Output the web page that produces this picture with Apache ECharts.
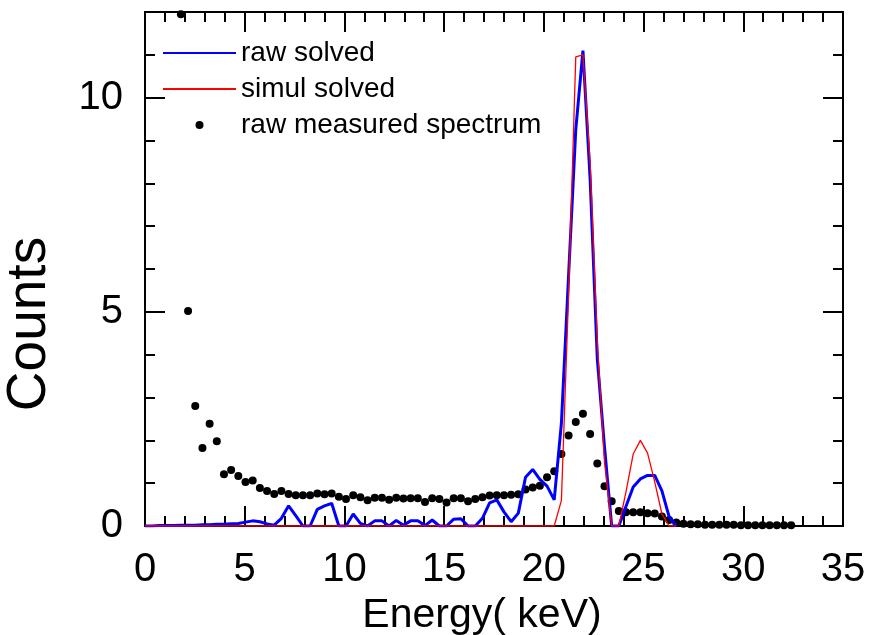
<!DOCTYPE html>
<html>
<head>
<meta charset="utf-8">
<script src="https://cdn.jsdelivr.net/npm/echarts@6/dist/echarts.min.js"></script>
<style>html,body{margin:0;padding:0;background:#fff}#c{width:871px;height:635px}</style>
</head>
<body>
<div id="c"></div>
<script>
// Energy grid (keV), channel centres
const energy = [0,0.36,0.72,1.08,1.44,1.8,2.16,2.52,2.88,3.24,3.6,3.96,4.32,4.68,5.04,5.4,5.76,6.12,6.48,6.84,
7.2,7.56,7.92,8.28,8.64,9.0,9.36,9.72,10.08,10.44,10.8,11.16,11.52,11.88,12.24,12.6,12.96,13.32,13.68,14.04,
14.4,14.76,15.12,15.48,15.84,16.2,16.56,16.92,17.28,17.64,18.0,18.36,18.72,19.08,19.44,19.8,20.16,20.52,20.88,21.24,
21.6,21.96,22.32,22.68,23.04,23.4,23.76,24.12,24.48,24.84,25.2,25.56,25.92,26.28,26.64,27.0,27.36,27.72,28.08,28.44,
28.8,29.16,29.52,29.88,30.24,30.6,30.96,31.32,31.68,32.04,32.4];

const rawSolved = [0,0,0.01,0.01,0.01,0.02,0.02,0.02,0.03,0.03,0.04,0.04,0.05,0.06,0.09,0.12,0.10,0.05,0.02,0.18,
0.47,0.24,0,0,0.39,0.47,0.53,0,0,0.28,0.06,0,0.12,0.12,0,0.13,0.02,0.12,0.12,0.01,
0.14,0,0,0.16,0.17,0,0,0.18,0.54,0.61,0.33,0.10,0.30,1.14,1.32,1.09,0.93,0.61,2.4,5.85,
9.25,11.1,8.1,3.9,1.85,0,0,0.46,0.91,1.10,1.18,1.18,0.82,0.22,0];

const simulSolved = [0,0,0,0,0,0,0,0,0,0,0,0,0,0,0,0,0,0,0,0,
0,0,0,0,0,0,0,0,0,0,0,0,0,0,0,0,0,0,0,0,
0,0,0,0,0,0,0,0,0,0,0,0,0,0,0,0,0,0,0.6,5.4,
10.95,11.0,8.5,4.3,1.5,0,0,0.8,1.68,2.0,1.7,1.03,0.28,0,0];

const rawMeasured = [null,null,null,null,null,11.95,5.02,2.80,1.82,2.39,1.98,1.21,1.31,1.17,1.03,1.06,0.89,0.82,0.75,0.82,
0.75,0.72,0.72,0.72,0.76,0.74,0.76,0.68,0.63,0.72,0.67,0.60,0.66,0.66,0.61,0.66,0.64,0.65,0.65,0.56,
0.65,0.63,0.55,0.65,0.65,0.58,0.63,0.67,0.71,0.72,0.72,0.73,0.74,0.85,0.90,0.94,1.14,1.28,1.68,2.11,
2.43,2.62,2.15,1.46,0.93,0.58,0.35,0.32,0.32,0.32,0.30,0.29,0.22,0.14,0.08,0.05,0.04,0.04,0.03,0.03,
0.03,0.03,0.03,0.02,0.02,0.02,0.02,0.02,0.02,0.02,0.02];

const xTicks = {min: 0, max: 35, interval: 5};
const yTicks = {min: 0, max: 12, major: 5, minor: 1};

const FONT = 'Liberation Sans, Arial, Helvetica, sans-serif';
const pairs = (ys) => ys.map((v, i) => [energy[i], v]);

const axisLine = {show: true, onZero: false, lineStyle: {color: '#000', width: 2}};
function xAxisCfg(pos, showLabel) {
  return {
    type: 'value', position: pos, min: xTicks.min, max: xTicks.max, interval: xTicks.interval,
    axisLine: axisLine,
    axisTick: {show: true, inside: true, length: 20, lineStyle: {color: '#000', width: 2}},
    minorTick: {show: true, splitNumber: 5, length: 10, lineStyle: {color: '#000', width: 2}},
    splitLine: {show: false}, minorSplitLine: {show: false},
    axisLabel: showLabel ? {show: true, fontSize: 40, color: '#000', margin: 24, fontFamily: FONT} : {show: false},
    name: showLabel ? 'Energy( keV)' : '',
    nameLocation: 'middle', nameGap: 66,
    nameTextStyle: {fontSize: 41, color: '#000', fontFamily: FONT, padding: [0, 24, 0, 0]}
  };
}
function yAxisCfg(pos, step, len, showLabel) {
  return {
    type: 'value', position: pos, min: yTicks.min, max: yTicks.max, interval: step,
    axisLine: axisLine,
    axisTick: {show: true, inside: true, length: len, lineStyle: {color: '#000', width: 2}},
    splitLine: {show: false},
    axisLabel: showLabel ? {show: true, fontSize: 40, color: '#000', margin: 22, fontFamily: FONT,
      formatter: (v) => (v % yTicks.major === 0 ? String(v) : '')} : {show: false}
  };
}

const chart = echarts.init(document.getElementById('c'), null, {renderer: 'canvas'});
chart.setOption({
  animation: false,
  backgroundColor: '#fff',
  grid: {left: 145, right: 28, top: 12, bottom: 109, containLabel: false, outerBoundsMode: 'none'},
  xAxis: [xAxisCfg('bottom', true), xAxisCfg('top', false)],
  yAxis: [
    yAxisCfg('left', yTicks.minor, 10, false),
    yAxisCfg('left', yTicks.major, 20, true),
    yAxisCfg('right', yTicks.minor, 10, false),
    yAxisCfg('right', yTicks.major, 20, false)
  ],
  legend: {
    orient: 'vertical', left: 162, top: 38, padding: 0,
    itemWidth: 73, itemHeight: 8, itemGap: 6,
    textStyle: {fontSize: 28, color: '#000', fontFamily: FONT, lineHeight: 30},
    data: [
      {name: 'raw solved', itemStyle: {opacity: 0}},
      {name: 'simul solved', itemStyle: {opacity: 0}},
      {name: 'raw measured spectrum', icon: 'circle', itemStyle: {color: '#000', opacity: 1}}
    ]
  },
  graphic: [{
    type: 'text', x: 30, y: 324, rotation: Math.PI / 2,
    style: {text: 'Counts', x: 0, y: 0, align: 'center', verticalAlign: 'middle',
      font: '55px ' + FONT, fill: '#000'}
  }],
  series: [
    {name: 'raw solved', type: 'line', xAxisIndex: 0, yAxisIndex: 0, data: pairs(rawSolved),
      symbol: 'none', color: '#0000ff', lineStyle: {color: '#0000ff', width: 3}},
    {name: 'simul solved', type: 'line', xAxisIndex: 0, yAxisIndex: 0, data: pairs(simulSolved),
      symbol: 'none', color: '#ff0000', lineStyle: {color: '#ff0000', width: 1.3}},
    {name: 'raw measured spectrum', type: 'scatter', xAxisIndex: 0, yAxisIndex: 0,
      data: pairs(rawMeasured).filter(p => p[1] !== null),
      symbol: 'circle', symbolSize: 8, color: '#000', itemStyle: {color: '#000', opacity: 1}}
  ]
});
</script>
</body>
</html>
